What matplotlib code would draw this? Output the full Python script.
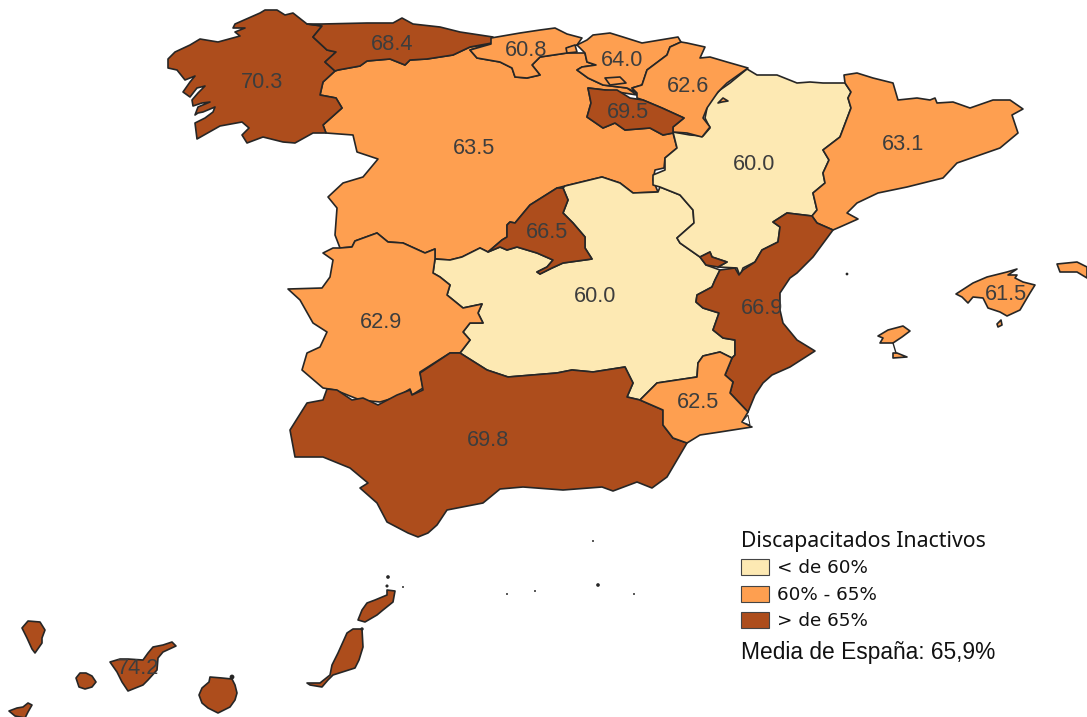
import matplotlib
matplotlib.use("Agg")
import matplotlib.pyplot as plt
from matplotlib.patches import Polygon, Rectangle

# outlines, in image pixels
galicia = [(307,24),(322,26),(313,37),(327,50),(336,52),(325,62),(335,71),(323,82),(320,95),(336,98),(342,108),(323,125),(326,133),(313,133),(295,143),(283,142),(263,137),(247,143),(242,135),(249,128),(242,122),(220,126),(197,139),(195,123),(205,118),(213,112),(215,107),(203,112),(198,113),(195,115),(198,107),(210,102),(202,103),(193,106),(192,100),(198,93),(205,86),(197,88),(190,97),(183,92),(190,82),(195,76),(185,80),(177,70),(168,68),(168,59),(175,52),(190,45),(200,39),(218,42),(240,36),(235,32),(245,28),(233,28),(235,24),(260,13),(265,10),(277,10),(285,15),(293,13)]
asturias = [(307,24),(322,24),(367,23),(393,23),(402,18),(413,24),(440,27),(460,32),(493,37),(492,43),(470,47),(453,55),(427,59),(410,60),(405,65),(390,59),(367,61),(360,66),(338,70),(335,71),(325,62),(336,52),(327,50),(313,37),(322,26)]
cantabria = [(491,38),(520,33),(540,30),(555,28),(567,34),(582,38),(577,45),(567,48),(567,53),(540,57),(532,65),(540,75),(527,78),(515,77),(512,68),(500,62),(477,58),(470,50),(491,44)]
villaverde = [(566,48),(575,45),(577,52),(567,53)]
pais_vasco = [(577,45),(587,40),(593,35),(610,33),(623,37),(642,43),(660,40),(678,37),(681,42),(670,47),(667,55),(647,70),(642,85),(632,88),(637,93),(627,88),(603,85),(588,78),(577,70),(582,67),(596,65),(587,62),(585,53)]
navarra = [(681,42),(687,43),(705,47),(700,58),(710,57),(727,62),(748,68),(727,83),(718,92),(707,108),(703,118),(710,127),(702,137),(687,133),(673,132),(673,127),(684,118),(662,108),(643,100),(637,98),(637,93),(632,88),(642,85),(647,70),(667,55),(670,47)]
petilla = [(718,103),(723,98),(728,101),(722,102)]
rioja = [(588,88),(605,90),(617,90),(630,98),(643,100),(662,108),(684,118),(673,127),(673,133),(663,135),(650,128),(625,130),(615,123),(603,128),(587,117),(591,103)]
castilla_leon = [(335,71),(323,82),(320,95),(336,98),(342,108),(323,125),(326,133),(353,135),(357,152),(378,159),(363,177),(343,183),(328,197),(337,208),(335,235),(340,248),(352,247),(355,241),(377,233),(388,242),(403,243),(425,253),(435,249),(435,259),(450,260),(462,257),(480,248),(488,252),(502,240),(507,237),(507,225),(510,222),(515,223),(530,205),(557,188),(565,186),(602,177),(620,183),(633,193),(658,192),(653,180),(655,170),(664,168),(665,158),(677,148),(673,133),(663,135),(650,128),(625,130),(615,123),(603,128),(587,117),(591,103),(588,88),(605,90),(637,95),(627,88),(603,85),(588,78),(577,70),(582,67),(596,65),(587,62),(585,53),(567,53),(540,57),(532,65),(540,75),(527,78),(515,77),(512,68),(500,62),(477,58),(470,50),(491,44),(470,47),(453,55),(427,59),(410,60),(405,65),(390,59),(367,61),(360,66),(338,70)]
trevino = [(605,78),(620,77),(626,83),(610,85)]
aragon = [(747,69),(757,75),(777,75),(797,83),(810,82),(823,83),(845,83),(851,92),(848,98),(851,108),(840,137),(823,150),(829,160),(823,173),(825,183),(813,193),(817,210),(812,216),(787,213),(773,222),(780,227),(778,242),(762,250),(755,262),(743,268),(740,276),(737,268),(718,267),(727,262),(712,257),(710,252),(700,257),(680,243),(677,238),(694,223),(693,210),(680,195),(660,187),(653,185),(653,175),(665,170),(665,158),(677,148),(673,132),(690,135),(703,136),(710,128),(705,118),(708,103),(720,90),(730,83)]
cataluna = [(844,75),(857,73),(873,78),(893,83),(898,100),(917,98),(930,100),(935,98),(937,103),(953,102),(970,108),(993,100),(1010,100),(1023,109),(1012,115),(1018,133),(1000,148),(957,163),(943,178),(907,187),(878,193),(857,203),(847,213),(858,219),(840,227),(833,230),(817,223),(812,216),(817,210),(813,193),(825,183),(823,173),(829,160),(823,150),(840,137),(851,108),(848,98),(851,92),(845,83)]
valencia = [(787,213),(812,216),(817,223),(833,230),(813,257),(797,273),(790,278),(780,293),(780,310),(783,323),(797,340),(815,351),(790,367),(772,375),(763,383),(755,395),(748,412),(730,393),(733,382),(725,375),(732,358),(735,355),(735,340),(723,338),(713,330),(719,313),(703,308),(696,302),(697,295),(712,287),(715,280),(720,270),(735,268),(739,275),(743,270),(755,262),(762,250),(778,242),(780,227),(773,222)]
ademuz = [(700,257),(710,252),(712,257),(727,262),(718,267),(706,265)]
madrid = [(488,252),(502,240),(507,237),(507,225),(510,222),(515,223),(530,205),(557,188),(563,188),(568,200),(563,213),(573,223),(585,237),(585,248),(592,259),(563,263),(552,268),(540,274),(537,272),(547,267),(553,260),(537,253),(517,247),(507,250),(500,247)]
castilla_mancha = [(435,259),(450,260),(462,257),(480,248),(488,252),(500,247),(507,250),(517,247),(537,253),(553,260),(547,267),(537,272),(540,274),(552,268),(563,263),(592,259),(585,248),(585,237),(573,223),(563,213),(568,200),(563,188),(565,186),(602,177),(620,183),(633,193),(658,192),(660,187),(680,195),(693,210),(694,223),(677,238),(680,243),(700,257),(706,265),(720,270),(715,280),(712,287),(697,295),(696,302),(703,308),(719,313),(713,330),(723,338),(735,340),(735,355),(732,358),(720,352),(703,356),(698,363),(697,377),(657,383),(640,400),(627,397),(633,383),(625,367),(593,372),(572,370),(557,373),(508,377),(487,370),(460,353),(470,340),(463,332),(470,323),(483,323),(478,313),(482,304),(463,308),(447,295),(450,285),(440,277),(433,273)]
extremadura = [(333,248),(340,248),(352,247),(355,241),(377,233),(388,242),(403,243),(425,253),(435,249),(435,259),(433,273),(440,277),(450,285),(447,295),(463,308),(482,304),(478,313),(483,323),(470,323),(463,332),(470,340),(460,353),(450,353),(420,372),(423,388),(412,395),(410,389),(397,397),(380,402),(360,400),(335,390),(323,388),(302,370),(307,353),(320,347),(327,332),(313,323),(300,300),(288,289),(322,288),(330,277),(333,260),(323,253)]
andalucia = [(460,353),(450,353),(420,373),(423,390),(412,395),(410,390),(397,395),(378,405),(363,398),(352,400),(337,390),(327,389),(323,400),(307,403),(290,430),(295,457),(300,457),(323,457),(350,468),(368,483),(360,488),(377,503),(387,522),(408,533),(418,537),(428,533),(437,525),(447,510),(483,503),(500,489),(523,487),(563,490),(602,487),(613,491),(637,482),(652,488),(667,477),(687,443),(673,438),(663,425),(663,410),(640,400),(627,397),(633,383),(625,367),(593,372),(572,370),(557,373),(508,377),(487,370)]
murcia = [(640,400),(657,383),(697,377),(698,363),(703,356),(720,352),(732,358),(725,375),(733,382),(730,393),(748,412),(742,422),(752,427),(720,432),(700,435),(687,443),(673,438),(663,425),(663,410)]
mar_menor = [(742,422),(748,415),(750,425)]
mallorca = [(956,294),(973,283),(987,277),(1007,272),(1017,269),(1008,275),(1017,275),(1015,278),(1023,282),(1035,285),(1030,293),(1020,310),(1007,316),(1000,312),(988,308),(983,298),(973,297),(968,303),(962,297)]
cabrera = [(997,324),(1001,320),(1002,325),(998,327)]
ibiza = [(878,336),(888,330),(903,326),(910,331),(902,337),(893,343),(880,343),(883,338)]
formentera = [(893,353),(897,353),(907,357),(893,358)]
menorca = [(1057,264),(1077,262),(1087,267),(1087,278),(1077,272),(1060,272)]
la_palma = [(22,628),(28,621),(40,622),(45,630),(42,638),(42,643),(35,653),(32,649),(27,638)]
la_gomera = [(76,678),(80,673),(86,673),(92,676),(96,682),(92,687),(85,689),(79,687)]
tenerife = [(110,662),(120,659),(128,659),(143,660),(148,653),(153,647),(163,645),(172,642),(176,646),(163,652),(158,658),(157,670),(148,680),(143,685),(128,691),(122,682),(117,672)]
el_hierro = [(9,711),(17,708),(23,707),(28,703),(32,705),(28,712),(25,718),(15,716)]
gran_canaria = [(199,695),(202,688),(209,682),(210,677),(222,678),(232,679),(235,685),(237,693),(235,700),(230,707),(218,713),(208,708),(202,703)]
fuerteventura = [(307,683),(320,683),(330,675),(332,665),(338,653),(347,633),(353,629),(362,629),(363,647),(359,660),(355,668),(333,675),(328,680),(322,687),(310,685)]
lanzarote = [(358,620),(362,610),(367,603),(375,600),(387,595),(387,590),(395,591),(393,602),(383,610),(377,615),(365,622)]

# islets too small for an outline
dots_x = [847, 593, 507, 535, 598, 634, 403, 388, 232, 362, 387]
dots_y = [274, 541, 594, 591, 585, 594, 587, 577, 677, 629, 586]
dots_s = [4, 2, 2, 2, 7, 2, 2, 7, 12, 6, 5]

regions = [
    ([castilla_leon], 63.5),
    ([castilla_mancha], 60.0),
    ([aragon], 60.0),
    ([extremadura], 62.9),
    ([andalucia], 69.8),
    ([galicia], 70.3),
    ([asturias], 68.4),
    ([cantabria, villaverde], 60.8),
    ([pais_vasco], 64.0),
    ([navarra, petilla], 62.6),
    ([rioja], 69.5),
    ([cataluna], 63.1),
    ([valencia, ademuz], 66.9),
    ([madrid], 66.5),
    ([murcia], 62.5),
    ([trevino], 63.5),
    ([mallorca, cabrera, ibiza, formentera, menorca], 61.5),
    ([la_palma, la_gomera, tenerife, el_hierro, gran_canaria, fuerteventura, lanzarote], 74.2),
]

label_values = [70.3, 68.4, 60.8, 64.0, 62.6, 69.5, 63.5, 60.0, 63.1, 66.5, 60.0, 62.9, 66.9, 61.5, 62.5, 69.8, 74.2]
label_x = [262, 392, 526, 622, 688, 628, 474, 754, 903, 547, 595, 381, 762, 1006, 698, 488, 138]
label_y = [82, 44, 51, 60, 87, 113, 149, 165, 145, 233, 296, 322, 309, 294, 403, 441, 668]

colors = ["#fde9b3", "#fe9f50", "#ad4d1c"]
legend_labels = ["< de 60%", "60% - 65%", "> de 65%"]
legend_y = [559, 586, 612]
edge = "#262626"

def pick_color(v):
    if v <= 60:
        return colors[0]
    if v <= 65:
        return colors[1]
    return colors[2]

fig = plt.figure(figsize=(10.87, 7.17), dpi=100)
ax = fig.add_axes([0, 0, 1, 1])
ax.set_xlim(0, 1087)
ax.set_ylim(717, 0)
ax.axis("off")

for polys, v in regions:
    for p in polys:
        ax.add_patch(Polygon(p, closed=True, fc=pick_color(v), ec=edge, lw=1.2, joinstyle="round"))
ax.add_patch(Polygon(mar_menor, closed=True, fc="white", ec=edge, lw=0.7))
ax.plot([893, 896], [343, 353], color=edge, lw=1.0)
ax.scatter(dots_x, dots_y, s=dots_s, color=edge, lw=0)

for v, x, y in zip(label_values, label_x, label_y):
    ax.text(x, y, "%.1f" % v, family="Liberation Sans", fontsize=15.7, color="#3d3d3d", ha="center", va="center")

ax.text(741, 541, "Discapacitados Inactivos", family="Noto Sans", fontsize=15.3, color="#111111", va="center")
for c, lab, y in zip(colors, legend_labels, legend_y):
    ax.add_patch(Rectangle((741, y), 28, 16, fc=c, ec="#444444", lw=0.8))
    ax.text(777, y + 9, lab, family="DejaVu Sans", fontsize=13.2, color="#111111", va="center")
ax.text(741, 653, "Media de España: 65,9%", family="Liberation Sans", fontsize=16.4, color="#111111", va="center")

fig.savefig("out.png", dpi=100)
